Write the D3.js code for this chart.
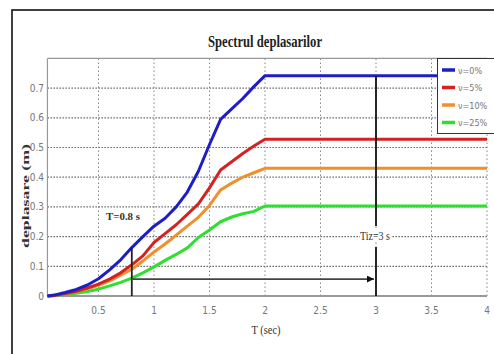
<!DOCTYPE html>
<html>
<head>
<meta charset="utf-8">
<script src="https://cdn.jsdelivr.net/npm/d3@7/dist/d3.min.js"></script>
<style>
  html, body { margin: 0; padding: 0; background: #fff; }
  svg { display: block; }
</style>
</head>
<body>
<svg id="chart" width="494" height="354"></svg>
<script>
// Period values (s)
const periods = [0.04, 0.1, 0.2, 0.3, 0.4, 0.5, 0.6, 0.7, 0.8, 0.9, 1.0, 1.1, 1.2, 1.3, 1.4, 1.5, 1.6, 1.7, 1.8, 1.9, 2.0, 4.0];

// Displacement (m) for each damping level
const disp0 = [0, 0.003, 0.012, 0.022, 0.037, 0.058, 0.088, 0.122, 0.163, 0.2, 0.235, 0.262, 0.3, 0.35, 0.42, 0.51, 0.595, 0.63, 0.665, 0.705, 0.742, 0.742];
const disp5 = [0, 0.002, 0.008, 0.016, 0.027, 0.04, 0.057, 0.078, 0.105, 0.135, 0.18, 0.21, 0.24, 0.275, 0.31, 0.364, 0.424, 0.452, 0.48, 0.505, 0.528, 0.528];
const disp10 = [0, 0.002, 0.007, 0.014, 0.024, 0.036, 0.051, 0.07, 0.09, 0.118, 0.148, 0.175, 0.205, 0.235, 0.265, 0.305, 0.357, 0.38, 0.4, 0.415, 0.43, 0.43];
const disp25 = [0, 0.001, 0.005, 0.009, 0.015, 0.023, 0.034, 0.046, 0.06, 0.078, 0.098, 0.12, 0.14, 0.162, 0.197, 0.222, 0.25, 0.266, 0.277, 0.285, 0.303, 0.303];

const seriesNames = ["ν=0%", "ν=5%", "ν=10%", "ν=25%"];
const seriesColors = ["#1e1ec8", "#d42222", "#f0902a", "#2ee02e"];

const xTicks = [0.5, 1, 1.5, 2, 2.5, 3, 3.5, 4];
const yTicks = [0, 0.1, 0.2, 0.3, 0.4, 0.5, 0.6, 0.7];

// Marked periods: structure period and shifted period
const tStruct = 0.8;
const tShift = 3;
const arrowLevel = 0.057;

const svg = d3.select("#chart");

const x = d3.scaleLinear().domain([0, 4]).range([43, 487]);
const y = d3.scaleLinear().domain([0, 0.8]).range([296, 58.4]);
const xMin = periods[0];

// outer frame
svg.append("rect").attr("x", 12).attr("y", 10).attr("width", 520).attr("height", 400)
  .attr("fill", "#fff").attr("stroke", "#111").attr("stroke-width", 1.6);

// title
svg.append("text").attr("x", 265).attr("y", 47).attr("text-anchor", "middle")
  .attr("font-family", "Liberation Serif, serif").attr("font-weight", "bold")
  .attr("font-size", 16).attr("textLength", 114).attr("lengthAdjust", "spacingAndGlyphs")
  .attr("fill", "#222").text("Spectrul deplasarilor");

const plot = svg.append("g");

// grid lines
plot.selectAll(".gy").data(yTicks.filter(d => d > 0)).join("line")
  .attr("x1", x(xMin)).attr("x2", x(4)).attr("y1", d => y(d)).attr("y2", d => y(d))
  .attr("stroke", "#666").attr("stroke-width", 1.2).attr("stroke-dasharray", "1.5,1.5");
plot.selectAll(".gx").data(xTicks).join("line")
  .attr("x1", d => x(d)).attr("x2", d => x(d)).attr("y1", y(0)).attr("y2", y(0.8))
  .attr("stroke", "#888").attr("stroke-width", 1).attr("stroke-dasharray", "1.5,2.5");

// axes frame (bottom, left, top)
plot.append("line").attr("x1", x(xMin)).attr("x2", x(4)).attr("y1", y(0)).attr("y2", y(0))
  .attr("stroke", "#999").attr("stroke-width", 2);
plot.append("line").attr("x1", x(xMin)).attr("x2", x(xMin)).attr("y1", y(0)).attr("y2", y(0.8))
  .attr("stroke", "#999").attr("stroke-width", 1.2);
plot.append("line").attr("x1", x(xMin)).attr("x2", x(4)).attr("y1", y(0.8)).attr("y2", y(0.8))
  .attr("stroke", "#999").attr("stroke-width", 1.2);

// tick labels
const tickFont = "Liberation Sans Narrow, DejaVu Sans Condensed, sans-serif";
svg.selectAll(".xl").data(xTicks).join("text")
  .attr("x", d => x(d)).attr("y", 314).attr("text-anchor", "middle")
  .attr("font-family", tickFont).attr("font-size", 10).attr("fill", "#777")
  .text(d => d3.format("~g")(d));
svg.selectAll(".yl").data(yTicks).join("text")
  .attr("x", 44).attr("y", d => y(d) + 3.5).attr("text-anchor", "end")
  .attr("font-family", tickFont).attr("font-size", 10).attr("fill", "#777")
  .text(d => d3.format("~g")(d));

// axis titles
svg.append("text").attr("x", 266).attr("y", 334).attr("text-anchor", "middle")
  .attr("font-family", "Liberation Serif, serif").attr("font-size", 12)
  .attr("textLength", 29).attr("lengthAdjust", "spacingAndGlyphs")
  .attr("fill", "#333").text("T (sec)");
svg.append("text").attr("transform", "translate(29,196) rotate(-90)").attr("text-anchor", "middle")
  .attr("font-family", "Liberation Serif, serif").attr("font-weight", "bold").attr("font-size", 11)
  .attr("textLength", 104).attr("lengthAdjust", "spacingAndGlyphs")
  .attr("fill", "#333").text("deplasare (m)");

// spectra curves
const allSeries = [disp0, disp5, disp10, disp25];
const line = d3.line().x((d, i) => x(periods[i])).y(d => y(d));
plot.selectAll(".curve").data(allSeries.slice().reverse()).join("path")
  .attr("d", d => line(d)).attr("fill", "none")
  .attr("stroke", (d, i) => seriesColors[3 - i]).attr("stroke-width", 3)
  .attr("stroke-linejoin", "round");

// marker at structure period
const structVal = disp0[periods.indexOf(tStruct)];
svg.append("line").attr("x1", x(tStruct)).attr("x2", x(tStruct))
  .attr("y1", y(0)).attr("y2", y(structVal))
  .attr("stroke", "#222").attr("stroke-width", 1.8);
svg.append("text").attr("x", 123).attr("y", 220).attr("text-anchor", "middle")
  .attr("font-family", "Liberation Serif, serif").attr("font-weight", "bold").attr("font-size", 11)
  .attr("textLength", 34).attr("lengthAdjust", "spacingAndGlyphs")
  .attr("fill", "#333").text("T=0.8 s");

// arrow towards shifted period
svg.append("defs").append("marker").attr("id", "ah")
  .attr("viewBox", "0 0 10 10").attr("refX", 10).attr("refY", 5)
  .attr("markerWidth", 7).attr("markerHeight", 7).attr("markerUnits", "userSpaceOnUse")
  .attr("orient", "auto")
  .append("path").attr("d", "M0,0 L10,5 L0,10 z").attr("fill", "#111");
svg.append("line").attr("x1", x(tStruct) + 1).attr("x2", x(tShift) - 2)
  .attr("y1", y(arrowLevel)).attr("y2", y(arrowLevel))
  .attr("stroke", "#444").attr("stroke-width", 1.8).attr("marker-end", "url(#ah)");

// marker at shifted period (interrupted by its label)
svg.append("line").attr("x1", x(tShift)).attr("x2", x(tShift))
  .attr("y1", y(disp0[disp0.length - 1])).attr("y2", 226)
  .attr("stroke", "#111").attr("stroke-width", 1.8);
svg.append("line").attr("x1", x(tShift)).attr("x2", x(tShift))
  .attr("y1", 247).attr("y2", y(0))
  .attr("stroke", "#111").attr("stroke-width", 1.8);
svg.append("rect").attr("x", x(tShift) - 16).attr("y", 229).attr("width", 32).attr("height", 13).attr("fill", "#fff");
svg.append("text").attr("x", x(tShift) - 1).attr("y", 240).attr("text-anchor", "middle")
  .attr("font-family", "Liberation Serif, serif").attr("font-size", 12)
  .attr("textLength", 30).attr("lengthAdjust", "spacingAndGlyphs")
  .attr("fill", "#333").text("Tiz=3 s");

// legend
const lg = svg.append("g");
lg.append("rect").attr("x", 437.5).attr("y", 58.5).attr("width", 70).attr("height", 75)
  .attr("fill", "#fff").attr("stroke", "#333").attr("stroke-width", 1);
seriesNames.forEach((name, i) => {
  const ly = 70 + i * 17.5;
  lg.append("line").attr("x1", 442).attr("x2", 455).attr("y1", ly).attr("y2", ly)
    .attr("stroke", seriesColors[i]).attr("stroke-width", 3.5);
  lg.append("text").attr("x", 458).attr("y", ly + 3.5)
    .attr("font-family", tickFont).attr("font-size", 9).attr("fill", "#777")
    .text(name);
});
</script>
</body>
</html>
